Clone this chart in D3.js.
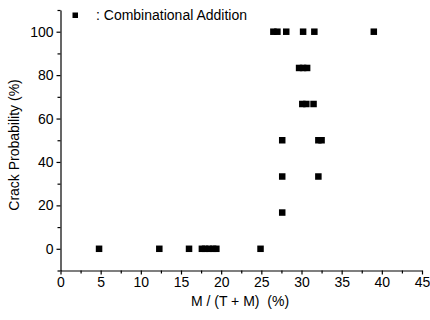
<!DOCTYPE html>
<html>
<head>
<meta charset="utf-8">
<script src="https://cdn.jsdelivr.net/npm/d3@7"></script>
<style>
  body { margin: 0; background: #fff; }
  text { font-family: "Liberation Sans", Arial, sans-serif; fill: #000; }
</style>
</head>
<body>
<div id="chart"></div>
<script>
const width = 430;
const height = 320;

// M/(T+M) in %, crack probability in %
const ratio = [4.8, 12.3, 16.0, 17.6, 18.0, 18.5, 19.0, 19.4, 24.9,
  27.6,
  27.6, 32.1,
  27.6, 32.1, 32.5,
  30.1, 30.6, 31.5,
  29.7, 30.2, 30.7,
  26.5, 27.0, 28.1, 30.2, 31.6, 39.0];
const crack = [0, 0, 0, 0, 0, 0, 0, 0, 0,
  16.7,
  33.3, 33.3,
  50, 50, 50,
  66.7, 66.7, 66.7,
  83.3, 83.3, 83.3,
  100, 100, 100, 100, 100, 100];
const xTicks = [0, 5, 10, 15, 20, 25, 30, 35, 40, 45];
const yTicks = [0, 20, 40, 60, 80, 100];
const legendLabel = ": Combinational Addition";

const x = d3.scaleLinear().domain([0, 45]).range([60.5, 422]);
const y = d3.scaleLinear().domain([-10, 110]).range([270.5, 10]);

const svg = d3.select("#chart")
  .append("svg")
    .attr("width", width)
    .attr("height", height);

// minor ticks
svg.append("g")
  .attr("transform", `translate(0,${y(-10)})`)
  .call(d3.axisBottom(x).tickValues(d3.range(2.5, 45, 5)).tickSize(3).tickFormat(""))
  .call(g => g.select(".domain").remove());
svg.append("g")
  .attr("transform", `translate(${x(0)},0)`)
  .call(d3.axisLeft(y).tickValues([-10, 10, 30, 50, 70, 90, 110]).tickSize(3).tickFormat(""))
  .call(g => g.select(".domain").remove());

// x axis
svg.append("g")
  .attr("transform", `translate(0,${y(-10)})`)
  .call(d3.axisBottom(x).tickValues(xTicks).tickSize(4).tickSizeOuter(0).tickPadding(3))
  .call(g => g.selectAll("text").style("font-size", "14px"));

// y axis
svg.append("g")
  .attr("transform", `translate(${x(0)},0)`)
  .call(d3.axisLeft(y).tickValues(yTicks).tickSize(4).tickSizeOuter(0).tickPadding(3))
  .call(g => g.selectAll("text").style("font-size", "14px"));

svg.selectAll(".domain, .tick line").attr("stroke", "#000").attr("stroke-width", 1.2);

// points
const s = 6.5;
svg.append("g")
  .selectAll("rect")
  .data(ratio)
  .join("rect")
    .attr("x", (d, i) => x(d) - s / 2)
    .attr("y", (d, i) => y(crack[i]) - s / 2)
    .attr("width", s)
    .attr("height", s)
    .attr("fill", "#000");

// legend
svg.append("rect")
  .attr("x", 72.5).attr("y", 12.5)
  .attr("width", 5.5).attr("height", 5.5)
  .attr("fill", "#000");
svg.append("text")
  .attr("x", 96).attr("y", 20)
  .style("font-size", "14px")
  .text(legendLabel);

// axis titles
svg.append("text")
  .attr("x", 240).attr("y", 306)
  .attr("text-anchor", "middle")
  .style("font-size", "14px")
  .attr("xml:space", "preserve")
  .text("M / (T + M)  (%)");

svg.append("text")
  .attr("transform", "translate(19,145) rotate(-90)")
  .attr("text-anchor", "middle")
  .style("font-size", "14px")
  .text("Crack Probability (%)");
</script>
</body>
</html>
